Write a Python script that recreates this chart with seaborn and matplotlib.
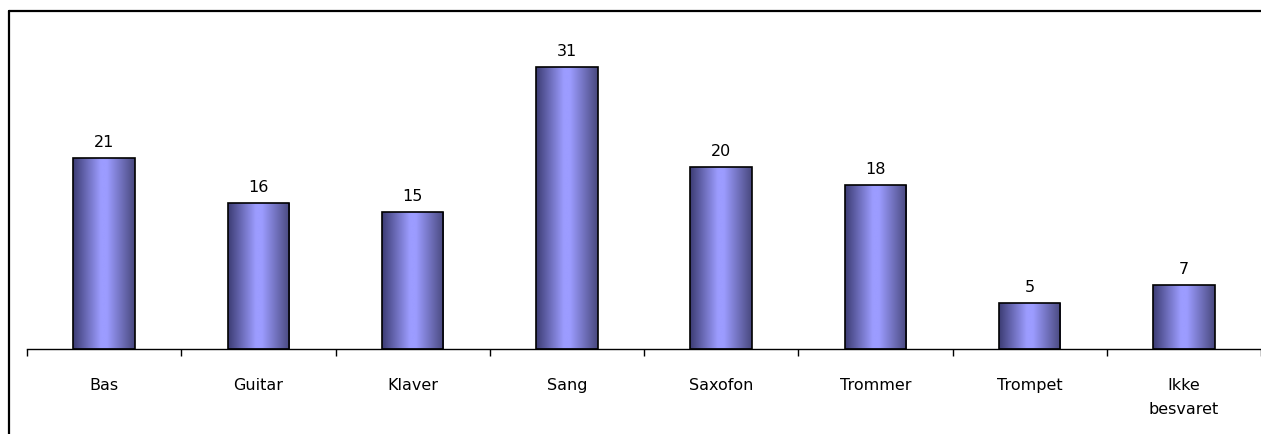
import matplotlib
matplotlib.use("Agg")
import matplotlib.pyplot as plt
import matplotlib.colors as mcolors
from matplotlib.lines import Line2D
import numpy as np
import pandas as pd
import seaborn as sns

categories = ["Bas", "Guitar", "Klaver", "Sang", "Saxofon", "Trommer", "Trompet", "Ikke\nbesvaret"]
values = [21, 16, 15, 31, 20, 18, 5, 7]

df = pd.DataFrame({"instrument": categories, "count": values})

sns.set_style("white")
plt.rcParams["font.family"] = ["DejaVu Sans"]

fig = plt.figure(figsize=(12.61, 4.34), dpi=100)
ax = fig.add_axes([27 / 1261, 85 / 434, 1 - 27 / 1261, (349 - 20) / 434])

sns.barplot(data=df, x="instrument", y="count", color="#9999ff", width=0.4,
            edgecolor="black", linewidth=1.2, ax=ax, zorder=2)

# horizontal shading on each bar, like the old Excel look
grad = mcolors.LinearSegmentedColormap.from_list(
    "bar", [(0, "#3c3c74"), (0.45, "#9c9cff"), (0.55, "#9c9cff"), (1, "#48487e")])
ramp = np.linspace(0, 1, 256).reshape(1, -1)
for p in ax.patches:
    x0, y0 = p.get_x(), p.get_y()
    w, h = p.get_width(), p.get_height()
    im = ax.imshow(ramp, cmap=grad, aspect="auto", extent=[x0, x0 + w, y0, y0 + h],
                   zorder=2.5, interpolation="bilinear")
    im.set_clip_path(p)
    p.set_facecolor("none")
    p.set_zorder(3)

ax.set_xlim(-0.5, len(categories) - 0.5)
ax.set_ylim(0, 36.15)

ax.bar_label(ax.containers[0], labels=[str(v) for v in values], padding=6,
             fontsize=11.5, color="black")

for s in ["top", "right", "left"]:
    ax.spines[s].set_visible(False)
ax.spines["bottom"].set_color("black")
ax.spines["bottom"].set_linewidth(1.0)

ax.set_yticks([])
ax.set_xlabel("")
ax.set_ylabel("")
ax.tick_params(axis="x", which="major", bottom=True, length=0, pad=21,
               labelsize=11.5, labelcolor="black")
ax.set_xticks(np.arange(-0.5, len(categories)), minor=True)
ax.tick_params(axis="x", which="minor", bottom=True, length=5, width=1,
               color="black", direction="out")
for lbl in ax.get_xticklabels():
    lbl.set_linespacing(1.7)

# outer frame (left and top edges visible in the crop)
fig.add_artist(Line2D([8.5 / 1261, 8.5 / 1261], [0, 1 - 11 / 434], color="black", lw=1.6))
fig.add_artist(Line2D([8.5 / 1261, 1], [1 - 11 / 434, 1 - 11 / 434], color="black", lw=1.6))

fig.savefig("out.png", dpi=100)
